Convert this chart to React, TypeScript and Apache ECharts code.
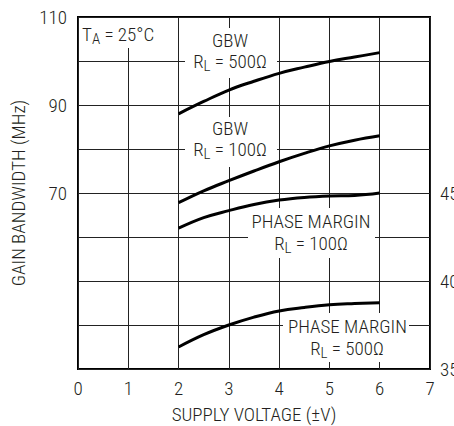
import React, { useEffect, useRef } from "react";
import * as echarts from "echarts";

// ---- data ----
const voltages = [2, 2.5, 3, 3.5, 4, 4.5, 5, 5.5, 6];
const gbw500 = [88.0, 90.8, 93.4, 95.4, 97.2, 98.6, 99.9, 100.9, 101.9];
const gbw100 = [67.8, 70.5, 72.8, 75.0, 77.1, 79.0, 80.7, 82.0, 83.0];
const pm100 = [43.0, 43.6, 44.0, 44.35, 44.6, 44.75, 44.83, 44.86, 45.0];
const pm500 = [36.25, 36.95, 37.5, 37.95, 38.3, 38.5, 38.65, 38.72, 38.77];
const xTicks = [0, 1, 2, 3, 4, 5, 6, 7];
const leftTickLabels = [70, 90, 110];
const rightTickLabels = [35, 40, 45];

const FONT = '"Liberation Sans Narrow", "Arial Narrow", "Roboto Condensed", "Liberation Sans", Arial, sans-serif';
const INK = "#231f20";
const FS = 19;
const FW = 300;

const G = { left: 78, top: 17, width: 352, height: 352 };

const rich = {
  m: { fontSize: FS, fontFamily: FONT, fontWeight: FW, fill: INK, lineHeight: 22 },
  s: { fontSize: 15, fontFamily: FONT, fontWeight: FW, fill: INK, lineHeight: 16, padding: [9, 0, 0, 0] },
};

function label(x: number, y: number, text: string, align = "center") {
  return {
    type: "text",
    x,
    y,
    z: 3,
    style: { text, align, verticalAlign: "middle", rich },
  };
}
function box(x: number, y: number, w: number, h: number) {
  return { type: "rect", z: 1, shape: { x, y, width: w, height: h }, style: { fill: "#fff" } };
}

export default function App() {
  const ref = useRef<HTMLDivElement>(null);
  useEffect(() => {
    const chart = echarts.init(ref.current!, null, { renderer: "svg" });
    const pairs = (ys: number[]) => voltages.map((v, i) => [v, ys[i]]);
    const line = (ys: number[], yAxisIndex: number) => ({
      type: "line",
      data: pairs(ys),
      yAxisIndex,
      smooth: 0.4,
      symbol: "none",
      z: 2,
      lineStyle: { color: "#000", width: 3 },
    });
    const axisText = { fontSize: FS, fontWeight: FW, color: INK, fontFamily: FONT };
    chart.setOption({
      animation: false,
      backgroundColor: "#fff",
      textStyle: { fontFamily: FONT },
      grid: {
        ...G,
        containLabel: false,
        outerBoundsMode: "none",
        show: true,
        borderColor: "#000",
        borderWidth: 2,
        backgroundColor: "transparent",
      },
      xAxis: {
        type: "value",
        min: xTicks[0],
        max: xTicks[xTicks.length - 1],
        interval: 1,
        name: "SUPPLY VOLTAGE (±V)",
        nameLocation: "middle",
        nameGap: 36,
        nameTextStyle: axisText,
        axisLine: { show: false },
        axisTick: { show: false },
        axisLabel: { ...axisText, margin: 10 },
        splitLine: { show: true, lineStyle: { color: "#222", width: 1 } },
      },
      yAxis: [
        {
          type: "value",
          min: 30,
          max: 110,
          interval: 10,
          name: "GAIN BANDWIDTH (MHz)",
          nameLocation: "middle",
          nameGap: 48,
          nameTextStyle: axisText,
          axisLine: { show: false },
          axisTick: { show: false },
          axisLabel: {
            ...axisText,
            margin: 11,
            formatter: (v: number) => (leftTickLabels.includes(v) ? String(v) : ""),
          },
          splitLine: { show: true, lineStyle: { color: "#222", width: 1 } },
        },
        {
          type: "value",
          position: "right",
          min: 35,
          max: 55,
          interval: 2.5,
          axisLine: { show: false },
          axisTick: { show: false },
          axisLabel: {
            ...axisText,
            margin: 10,
            formatter: (v: number) => (rightTickLabels.includes(v) ? String(v) : ""),
          },
          splitLine: { show: false },
        },
      ],
      series: [line(gbw500, 0), line(gbw100, 0), line(pm100, 1), line(pm500, 1)],
      graphic: [
        box(79, 18, 98, 30),
        label(82, 34, "{m|T}{s|A}{m| = 25°C}", "left"),
        box(185, 28, 92, 50),
        label(230, 40, "{m|GBW}"),
        label(230, 61, "{m|R}{s|L}{m| = 500Ω}"),
        box(185, 117, 92, 50),
        label(230, 128, "{m|GBW}"),
        label(230, 149, "{m|R}{s|L}{m| = 100Ω}"),
        box(248, 208, 127, 50),
        label(311, 221.5, "{m|PHASE MARGIN}"),
        label(311, 243.5, "{m|R}{s|L}{m| = 100Ω}"),
        box(283, 313, 126, 49),
        label(347.5, 326.5, "{m|PHASE MARGIN}"),
        label(347, 348.5, "{m|R}{s|L}{m| = 500Ω}"),
      ],
    });
    return () => chart.dispose();
  }, []);
  return <div ref={ref} style={{ position: "fixed", left: 0, top: 0, width: 454, height: 426 }} />;
}
